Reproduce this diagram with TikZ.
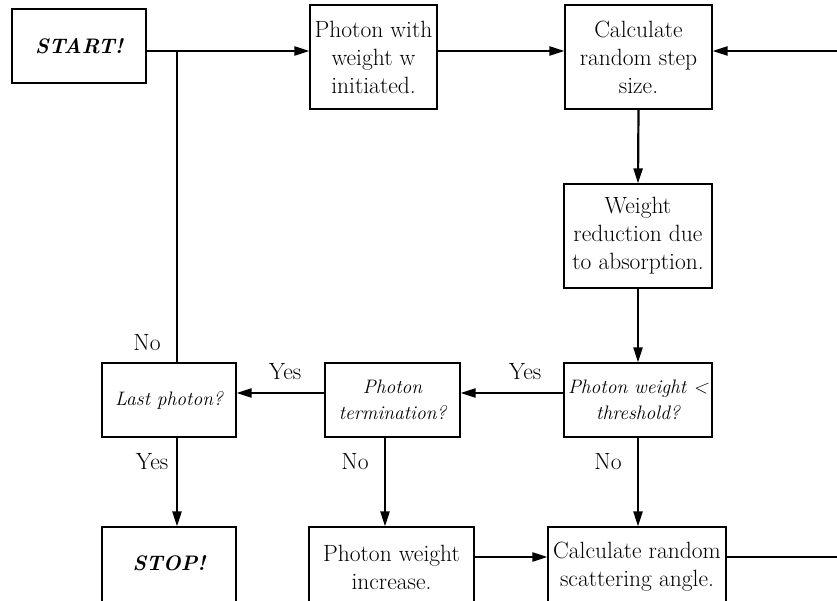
\documentclass[tikz,border=0pt]{standalone}
\usepackage{fontspec}
\usetikzlibrary{arrows.meta,calc}
\begin{document}
\begin{tikzpicture}[x=1pt,y=-1pt,
  box/.style={draw,line width=1.1pt,inner sep=0pt,align=center,font=\fontsize{23.5}{28}\selectfont},
  qbox/.style={box,font=\itshape\fontsize{19.5}{26}\selectfont},
  txt/.style={inner sep=0pt,align=center,font=\fontsize{23.5}{28}\selectfont},
  arr/.style={line width=2.2pt,-{Triangle[length=15pt,width=9pt]}},
  ln/.style={line width=1.2pt},
  lbl/.style={inner sep=0pt,font=\fontsize{23.5}{26}\selectfont}]
\useasboundingbox (0,0) rectangle (837,601);
\clip (0,0) rectangle (837,601);
% boxes
\node[box,minimum width=134pt,minimum height=74pt,font=\bfseries\itshape\fontsize{21}{28}\selectfont] (start) at (79,46) {START!};
\node[box,minimum width=127pt,minimum height=104pt] (photon) at (373.5,57) {Photon with\\weight w\\initiated.};
\node[box,minimum width=147pt,minimum height=104pt] (calc) at (638.5,57) {Calculate\\random step\\size.};
\node[box,minimum width=148pt,minimum height=104pt] (weight) at (638,236) {Weight\\reduction due\\to absorption.};
\node[qbox,minimum width=148pt,minimum height=74pt] (thresh) at (638,400) {Photon weight <\\threshold?};
\node[qbox,minimum width=135pt,minimum height=74pt] (term) at (392.5,400) {Photon\\termination?};
\node[qbox,minimum width=134pt,minimum height=74pt] (lastph) at (169,400) {Last photon?};
\node[box,minimum width=134pt,minimum height=98pt] (stop) at (169,576) {};
\node[box,minimum width=165pt,minimum height=98pt] (pwi) at (391.5,576) {};
\node[box,minimum width=178pt,minimum height=98pt] (scat) at (637,576) {};
\node[txt,font=\bfseries\itshape\fontsize{21}{28}\selectfont] (stoptxt) at (169,563) {STOP!};
\node[txt] (pwitxt) at (391.5,567) {Photon weight\\increase.};
\node[txt] (scattxt) at (637,567) {Calculate random\\scattering angle.};
% helper coordinates
\coordinate (r1) at (0,51);
\coordinate (r2) at (0,393);
\coordinate (j) at (177,51);
\coordinate (t) at (385,400);
\coordinate (e1) at (837,51);
\coordinate (e2) at (837,557);
% connectors
\draw[arr] (start.east|-r1) -- (photon.west|-r1);
\draw[ln] (j) -- (j|-lastph.north);
\draw[arr] (photon.east|-r1) -- (calc.west|-r1);
\draw[arr] (e1) -- (calc.east|-e1);
\draw[arr] (calc.south) -- (weight.north);
\draw[arr] (weight.south) -- (thresh.north);
\draw[arr] (thresh.west|-r2) -- (term.east|-r2);
\draw[arr] (term.west|-r2) -- (lastph.east|-r2);
\draw[arr] (j|-lastph.south) -- (j|-stop.north);
\draw[arr] (t|-term.south) -- (t|-pwi.north);
\draw[arr] (thresh.south) -- (thresh.south|-scat.north);
\draw[arr] (pwi.east|-e2) -- (scat.west|-e2);
\draw[ln] (scat.east|-e2) -- (e2);
% labels
\node[lbl] (l1) at (147,343) {No};
\node[lbl] (l2) at (285,372) {Yes};
\node[lbl] (l3) at (525,372) {Yes};
\node[lbl] (l4) at (152,462) {Yes};
\node[lbl] (l5) at (355,462) {No};
\node[lbl] (l6) at (608,462) {No};
\end{tikzpicture}
\end{document}
